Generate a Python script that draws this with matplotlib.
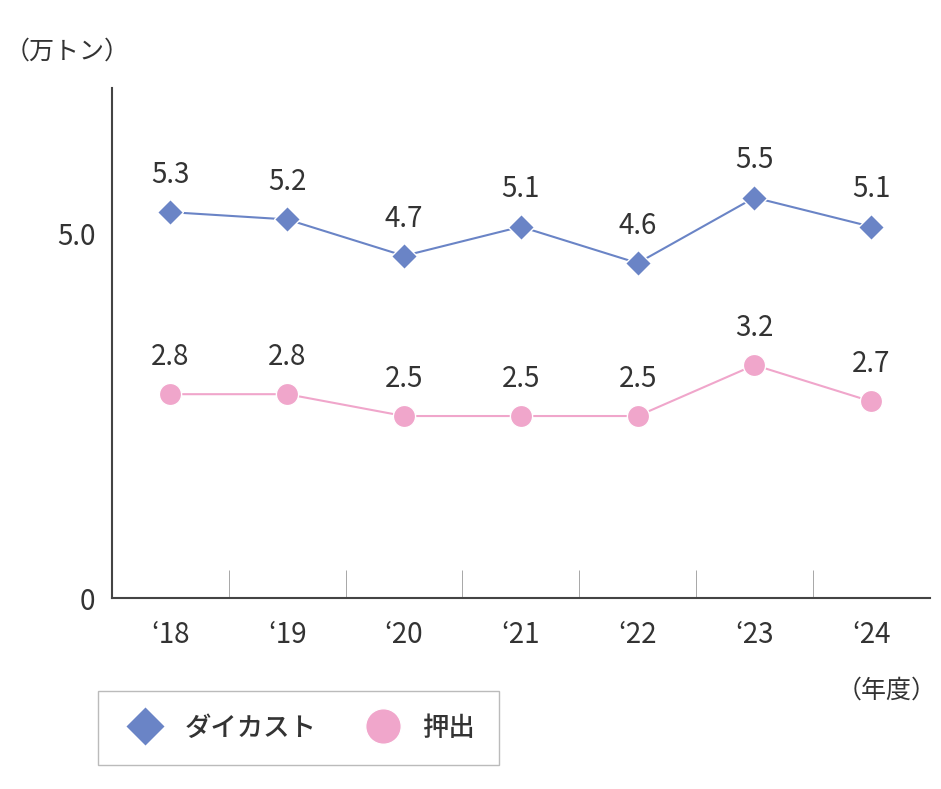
import matplotlib.pyplot as plt
from matplotlib.ticker import FixedLocator

plt.rcParams['font.family'] = 'Noto Sans CJK JP'

years = ["‘18", "‘19", "‘20", "‘21", "‘22", "‘23", "‘24"]
diecast = [5.3, 5.2, 4.7, 5.1, 4.6, 5.5, 5.1]
extrusion = [2.8, 2.8, 2.5, 2.5, 2.5, 3.2, 2.7]

blue = '#6a84c6'
pink = '#f0a6cb'
txt = '#333333'

fig = plt.figure(figsize=(9.41, 7.89), dpi=100)
ax = fig.add_axes([0.119, 0.242, 0.869, 0.646])
x = range(len(years))

ax.plot(x, diecast, color=blue, lw=1.5, marker='D', ms=13, mfc=blue, mec='white', mew=1, label='ダイカスト')
ax.plot(x, extrusion, color=pink, lw=1.5, marker='o', ms=16, mfc=pink, mec='white', mew=1, label='押出')

for i in x:
    ax.annotate(f"{diecast[i]:.1f}", (i, diecast[i]), xytext=(0, 16), textcoords='offset points',
                ha='center', va='bottom', fontsize=20, color=txt)
    ax.annotate(f"{extrusion[i]:.1f}", (i, extrusion[i]), xytext=(0, 16), textcoords='offset points',
                ha='center', va='bottom', fontsize=20, color=txt)

ax.set_xlim(-0.5, 6.5)
ax.set_ylim(0, 7)
ax.set_xticks(list(x))
ax.set_xticklabels(years, fontsize=20, color=txt)
ax.xaxis.set_minor_locator(FixedLocator([i + 0.5 for i in range(6)]))
ax.tick_params(axis='x', which='major', length=0, pad=16)
ax.tick_params(axis='x', which='minor', direction='in', length=20, color='#999999')
ax.set_yticks([0, 5.0])
ax.set_yticklabels(['0', '5.0'], fontsize=20, color=txt)
ax.tick_params(axis='y', length=0, pad=12)
for s in ['top', 'right']:
    ax.spines[s].set_visible(False)
for s in ['left', 'bottom']:
    ax.spines[s].set_color('#444444')
    ax.spines[s].set_linewidth(1.5)

fig.text(0.005, 0.935, '（万トン）', fontsize=18, color=txt, ha='left', va='center')
fig.text(0.995, 0.125, '（年度）', fontsize=18, color=txt, ha='right', va='center')

leg = fig.legend(loc='lower left', bbox_to_anchor=(0.104, 0.03), ncol=2, fontsize=19,
                 frameon=True, fancybox=False, edgecolor='#aaaaaa', borderpad=0.9,
                 borderaxespad=0, columnspacing=1.6, handletextpad=0.6, handlelength=1.8,
                 markerscale=1.6)
for h in leg.legend_handles:
    h.set_linestyle('none')
for t in leg.get_texts():
    t.set_color(txt)
    t.set_fontweight('medium')

fig.savefig('out.png', dpi=100)
